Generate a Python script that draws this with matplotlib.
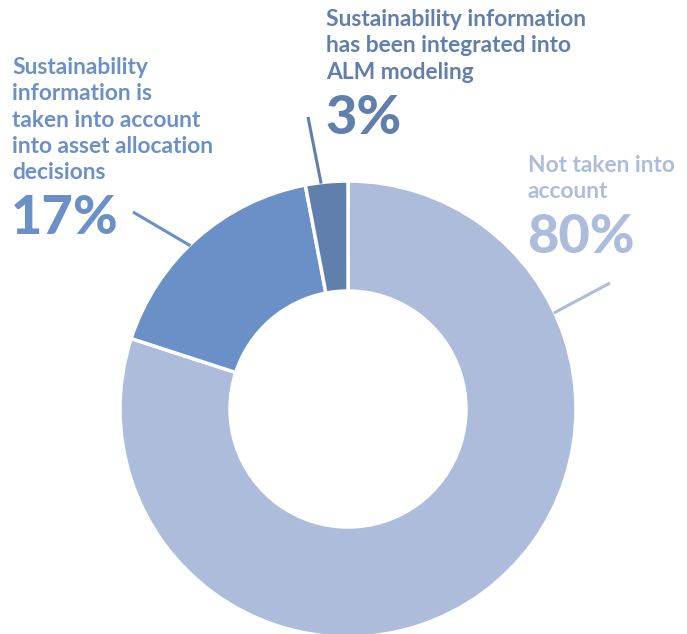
import matplotlib.pyplot as plt
import numpy as np

labels = [["Not taken into", "account"],
          ["Sustainability", "information is", "taken into account",
           "into asset allocation", "decisions"],
          ["Sustainability information", "has been integrated into",
           "ALM modeling"]]
values = [80, 17, 3]
colors = ["#aebcdc", "#6b90c8", "#617fad"]

W, H = 687, 634
fig = plt.figure(figsize=(W / 100, H / 100), dpi=100)
ax = fig.add_axes([0, 0, 1, 1])

cx, cy, r = 348, H - 409, 228
ax.pie(values, colors=colors, startangle=90, counterclock=False,
       center=(cx, cy), radius=r, frame=True,
       wedgeprops=dict(width=110, edgecolor="white", linewidth=2.5))
ax.set_xlim(0, W)
ax.set_ylim(0, H)
ax.set_aspect("equal")
ax.axis("off")

font = "Lato"
step = 26.3
# first baseline (px from top-left), leader line angle, leader end
layout = [
    dict(x=528, y=172, ang=25, end=(610, 283)),
    dict(x=12, y=74, ang=134, end=(133, 212)),
    dict(x=326, y=26, ang=96.8, end=(308, 117)),
]
for lines, val, col, L in zip(labels, values, colors, layout):
    for i, line in enumerate(lines):
        ax.text(L["x"], H - L["y"] - i * step, line, color=col, fontsize=16.4,
                family=font, fontweight="bold", va="baseline", ha="left")
    ax.text(L["x"] - 1, H - L["y"] - (len(lines) - 1) * step - 55, f"{val}%",
            color=col, fontsize=39, family=font, fontweight="black",
            va="baseline", ha="left")
    a = np.deg2rad(L["ang"])
    x0, y0 = cx + (r - 1) * np.cos(a), cy + (r - 1) * np.sin(a)
    ax.plot([x0, L["end"][0]], [y0, H - L["end"][1]], color=col, lw=2.2,
            solid_capstyle="butt")

fig.savefig("out.png", dpi=100)
